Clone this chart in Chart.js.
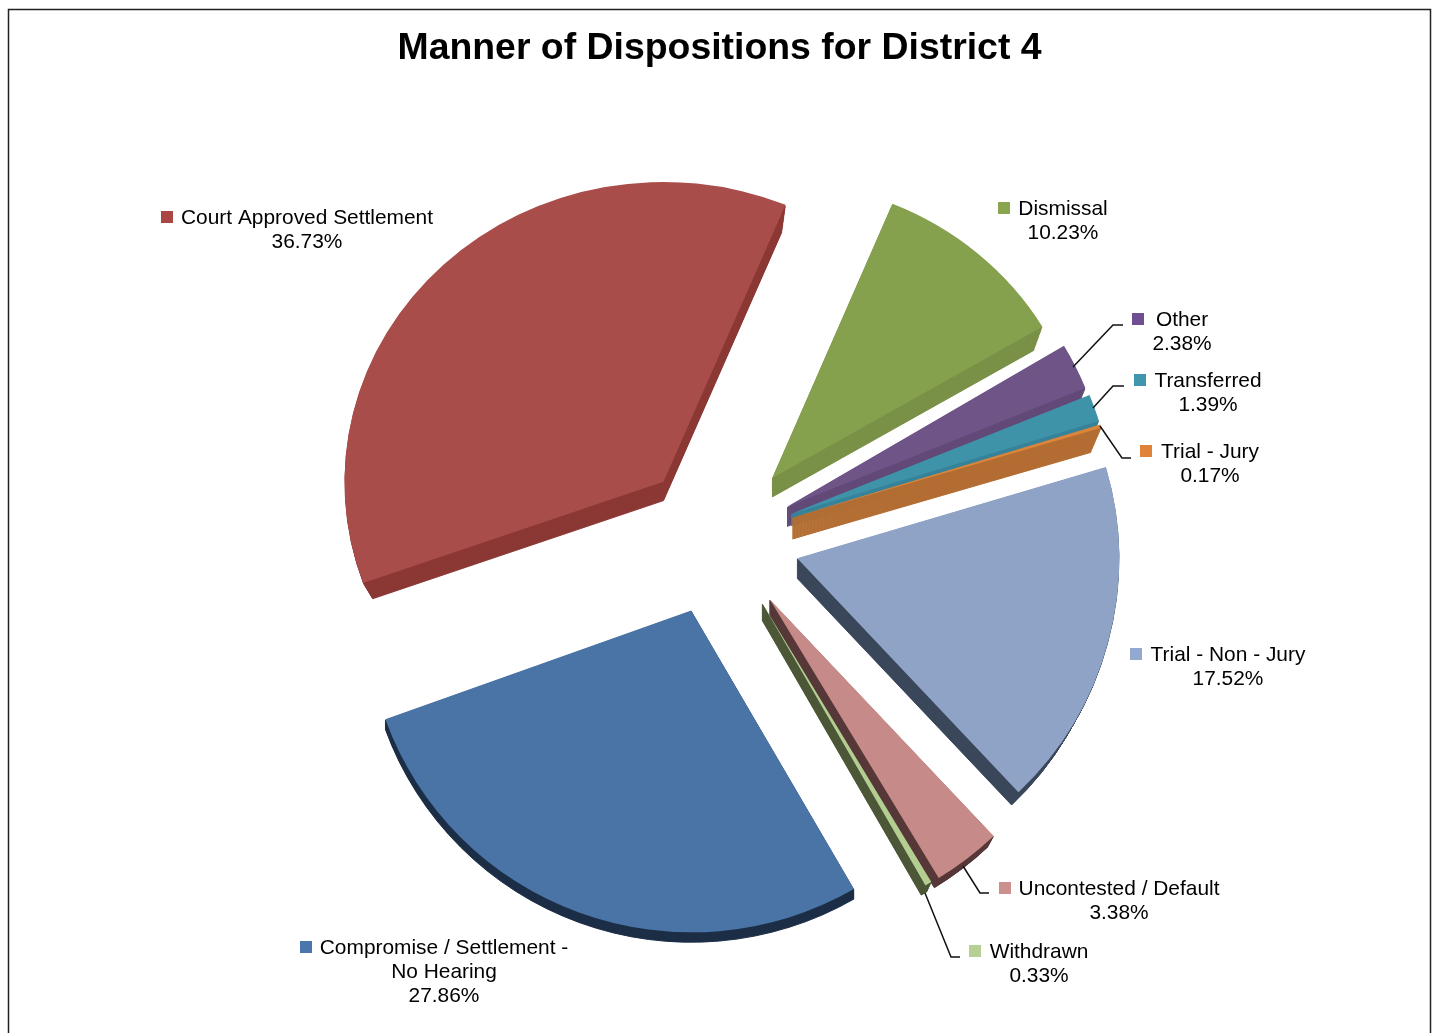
<!DOCTYPE html>
<html>
<head>
<meta charset="utf-8">
<title>Manner of Dispositions for District 4</title>
<script src="https://cdn.jsdelivr.net/npm/chart.js@4/dist/chart.umd.min.js"></script>
<style>
html, body { margin: 0; padding: 0; background: #fff; overflow: hidden; }
#wrap { position: absolute; left: 0; top: 0; width: 1435px; height: 1033px; }
</style>
</head>
<body>
<div id="wrap"><canvas id="pie" width="1435" height="1033"></canvas></div>
<script>
var chartTitle = 'Manner of Dispositions for District 4';

// clockwise from the top of the pie
var categories = [
    ['Dismissal'],
    ['Other'],
    ['Transferred'],
    ['Trial - Jury'],
    ['Trial - Non - Jury'],
    ['Uncontested / Default'],
    ['Withdrawn'],
    ['Compromise / Settlement -', 'No Hearing'],
    ['Court Approved Settlement']
];
var percents = [10.23, 2.38, 1.39, 0.17, 17.52, 3.38, 0.33, 27.86, 36.73];

// styling per slice
var faceColors = ['#86A14E', '#6F5488', '#3F93A9', '#DB853B', '#8EA3C6', '#C68A88', '#B4CE92', '#4A73A6', '#A94D4B'];
var wallColors = ['#7A9147', '#624A78', '#37839A', '#B36D33', '#3A4659', '#573838', '#4C5738', '#1C2E47', '#8B3835'];
var keyColors = ['#8BA54F', '#6F4F92', '#3F96AD', '#E0833A', '#93A9CF', '#CD8F8D', '#B6CF93', '#4A76AC', '#AA4644'];
var explode = [86, 86, 84, 82, 82, 77, 77, 72, 79];
var nudgeX = [0, -6, -4, -2, 2, 7, 7, 0, 2];
var nudgeY = [0, 2, -1, -2, -6, -5, -6, 0, -4];
var radii = [314, 322, 322, 322, 322, 326, 326, 325, 319];
var squash = [0.945, 0.98, 0.98, 0.98, 1, 1, 1, 0.99, 0.94];
var depths = [20, 20, 12, 22, 20, 17, 17, 10, 20];
var shrink = [0.5, 0.5, 0.5, 0.5, 0.5, 0.5, 0.5, 0, 0.5];

// label placement: centre x, middle of first line y, left of the key square
var labelX = [1063, 1182, 1208, 1210, 1228, 1119, 1039, 444, 307];
var labelY = [208, 319, 380, 451, 654, 888, 951, 947, 217];
var keyX = [998, 1132, 1134, 1140, 1130, 999, 969, 300, 161];

var leaderLines = [
    [[1073, 367], [1113, 325], [1123, 325]],
    [[1093, 408], [1113, 386], [1124, 386]],
    [[1100, 426], [1122, 458], [1131, 458]],
    [[963, 866], [980, 893], [989, 893]],
    [[925, 893], [951, 957], [960, 957]]
];

var FONT = '"Liberation Sans", Arial, sans-serif';

var explodedPie = {
    id: 'explodedPie',
    beforeDatasetDraw: function (chart) {
        var ctx = chart.ctx;
        chart.getDatasetMeta(0).data.forEach(function (arc, i) {
            var mid = (arc.startAngle + arc.endAngle) / 2;
            var apexX = arc.x + Math.cos(mid) * explode[i] + nudgeX[i];
            var apexY = arc.y + Math.sin(mid) * explode[i] + nudgeY[i];
            var face = arc.options.backgroundColor;

            ctx.save();
            ctx.translate(apexX, apexY);
            ctx.scale(1, squash[i]);
            ctx.translate(-arc.x, -arc.y);

            // the wall is a stack of darker copies, outlined so thin slices do not fade
            arc.options.backgroundColor = wallColors[i];
            arc.options.borderColor = wallColors[i];
            arc.options.borderWidth = 1;
            for (var k = depths[i]; k > 0; k--) {
                ctx.save();
                ctx.translate(0, k);
                arc.outerRadius = radii[i] - k * shrink[i];
                arc.draw(ctx);
                ctx.restore();
            }
            arc.options.backgroundColor = face;
            arc.options.borderWidth = 0;
            arc.outerRadius = radii[i];
            arc.draw(ctx);
            ctx.restore();
        });
        return false;
    },
    afterDraw: function (chart) {
        var ctx = chart.ctx;
        ctx.save();

        ctx.strokeStyle = '#222';
        ctx.lineWidth = 1.5;
        ctx.strokeRect(8.5, 9.5, 1422, 1040);

        ctx.fillStyle = '#000';
        ctx.textAlign = 'center';
        ctx.textBaseline = 'middle';
        ctx.font = 'bold 37.4px ' + FONT;
        ctx.fillText(chartTitle, 719.5, 49);

        ctx.lineWidth = 1.5;
        ctx.strokeStyle = '#111';
        leaderLines.forEach(function (pts) {
            ctx.beginPath();
            pts.forEach(function (p, j) {
                if (j === 0) ctx.moveTo(p[0], p[1]);
                else ctx.lineTo(p[0], p[1]);
            });
            ctx.stroke();
        });

        ctx.font = '20.9px ' + FONT;
        categories.forEach(function (lines, i) {
            var y = labelY[i] + 1;
            ctx.fillStyle = keyColors[i];
            ctx.fillRect(keyX[i], labelY[i] - 6, 12, 12);
            ctx.fillStyle = '#000';
            lines.concat(percents[i].toFixed(2) + '%').forEach(function (t, j) {
                ctx.fillText(t, labelX[i], y + j * 24);
            });
        });
        ctx.restore();
    }
};

new Chart(document.getElementById('pie'), {
    type: 'pie',
    data: {
        labels: categories.map(function (l) { return l.join(' '); }),
        datasets: [{
            data: percents,
            backgroundColor: faceColors,
            borderWidth: 0
        }]
    },
    options: {
        responsive: false,
        animation: false,
        rotation: 22.5,
        radius: 320,
        layout: { padding: { top: 53, right: 3 } },
        plugins: { legend: { display: false }, tooltip: { enabled: false } }
    },
    plugins: [explodedPie]
});
</script>
</body>
</html>
